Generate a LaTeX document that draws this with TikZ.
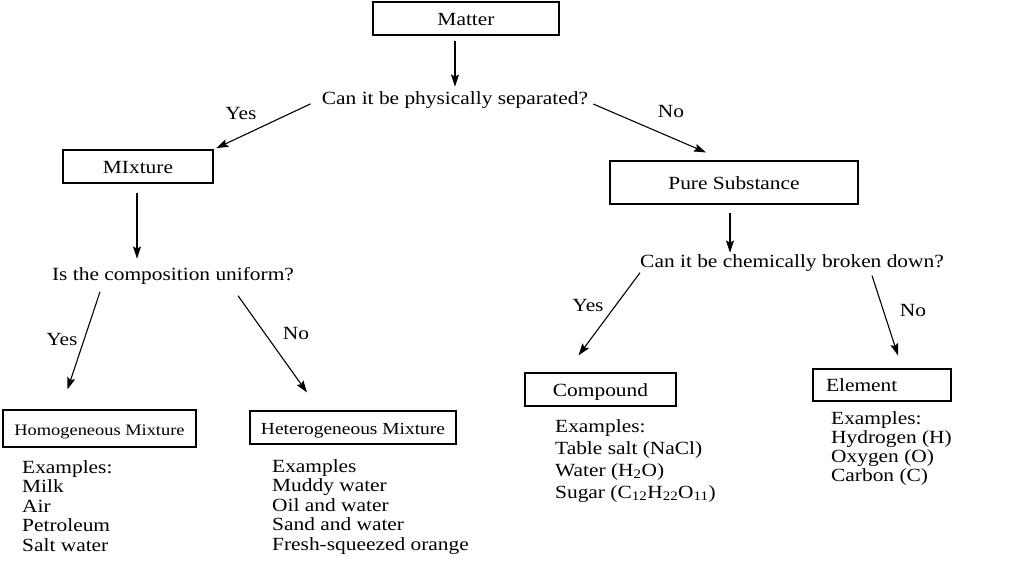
\documentclass[tikz,border=0pt]{standalone}
\usepackage{fontspec}
\setmainfont{Liberation Serif}[FakeStretch=1.15]
\usepackage{tikz}
\usetikzlibrary{arrows.meta,calc}

\tikzset{
  box/.style={draw,line width=1.1pt,inner sep=0pt,text height=15pt,text depth=2pt},
  txt/.style={inner sep=3pt},
  lst/.style={inner sep=0pt,anchor=north west,align=left},
  arr/.style={line width=1.1pt,-{Stealth[length=12pt,width=8pt,inset=2pt]}}
}

\begin{document}
\begin{tikzpicture}[x=1pt,y=-1pt,font=\fontsize{18.6}{19.5}\selectfont]
  \useasboundingbox (0,0) rectangle (1024,576);
  % boxes
  \node[box,minimum width=186pt,minimum height=33pt] (matter) at (466,18.5) {Matter};
  \node[box,minimum width=150pt,minimum height=33pt] (mix) at (138,166.5) {MIxture};
  \node[box,minimum width=248pt,minimum height=43pt] (pure) at (734,182.5) {Pure Substance};
  \node[box,minimum width=193pt,minimum height=37pt,font=\fontsize{16}{18}\selectfont] (homo) at (99.5,428.5) {Homogeneous Mixture};
  \node[box,minimum width=206pt,minimum height=33pt,font=\fontsize{16.9}{18}\selectfont] (hetero) at (353,427.5) {Heterogeneous Mixture};
  \node[box,minimum width=151pt,minimum height=33pt] (comp) at (600.5,389.5) {Compound};
  \node[box,text width=112pt,align=left,inner xsep=13pt,minimum height=32pt] (elem) at (882,385) {Element};
  % questions
  \node[txt] (q1) at (455,100) {Can it be physically separated?};
  \node[txt] (q2) at (173,276) {Is the composition uniform?};
  \node[txt] (q3) at (792,263) {Can it be chemically broken down?};
  % answers
  \node at (241,113) {Yes}; \node at (671,111) {No};
  \node at (62,339) {Yes}; \node at (296,333) {No};
  \node at (588,305) {Yes}; \node at (913,310) {No};
  % examples
  \node[lst] (exhomo) at (22,460) {Examples:\\Milk\\Air\\Petroleum\\Salt water};
  \node[lst] (exhet) at (272,459) {Examples\\Muddy water\\Oil and water\\Sand and water\\Fresh-squeezed orange};
  \node[lst,font=\fontsize{18.6}{22}\selectfont] (excomp) at (555,419) {Examples:\\Table salt (NaCl)\\Water (H\textsubscript{2}O)\\Sugar (C\textsubscript{12}H\textsubscript{22}O\textsubscript{11})};
  \node[lst,font=\fontsize{18.6}{19}\selectfont] (exelem) at (831,411) {Examples:\\Hydrogen (H)\\Oxygen (O)\\Carbon (C)};
  % arrows
  \draw[arr] ($(matter.south)+(-11,5)$) -- ($(matter.south)+(-11,51)$);
  \draw[arr,shorten <=9pt,shorten >=3pt] (q1.west) -- (mix.north east);
  \draw[arr] ($(q1.east)+(2,4)$) -- ($(pure.north)+(-28,-8)$);
  \draw[arr] ($(mix.south)+(-1,9)$) -- ($(mix.south)+(-1,75)$);
  \draw[arr] ($(q2.south)+(-73,4)$) -- ($(homo.north)+(-32,-20)$);
  \draw[arr] ($(q2.south)+(65,8)$) -- ($(hetero.north)+(-46,-18)$);
  \draw[arr] ($(pure.south)+(-4,8)$) -- ($(pure.south)+(-4,48)$);
  \draw[arr] ($(q3.south west)+(3,-2)$) -- ($(comp.north)+(-22,-17)$);
  \draw[arr] ($(q3.south)+(80,1)$) -- ($(elem.north)+(16,-13)$);
\end{tikzpicture}
\end{document}
